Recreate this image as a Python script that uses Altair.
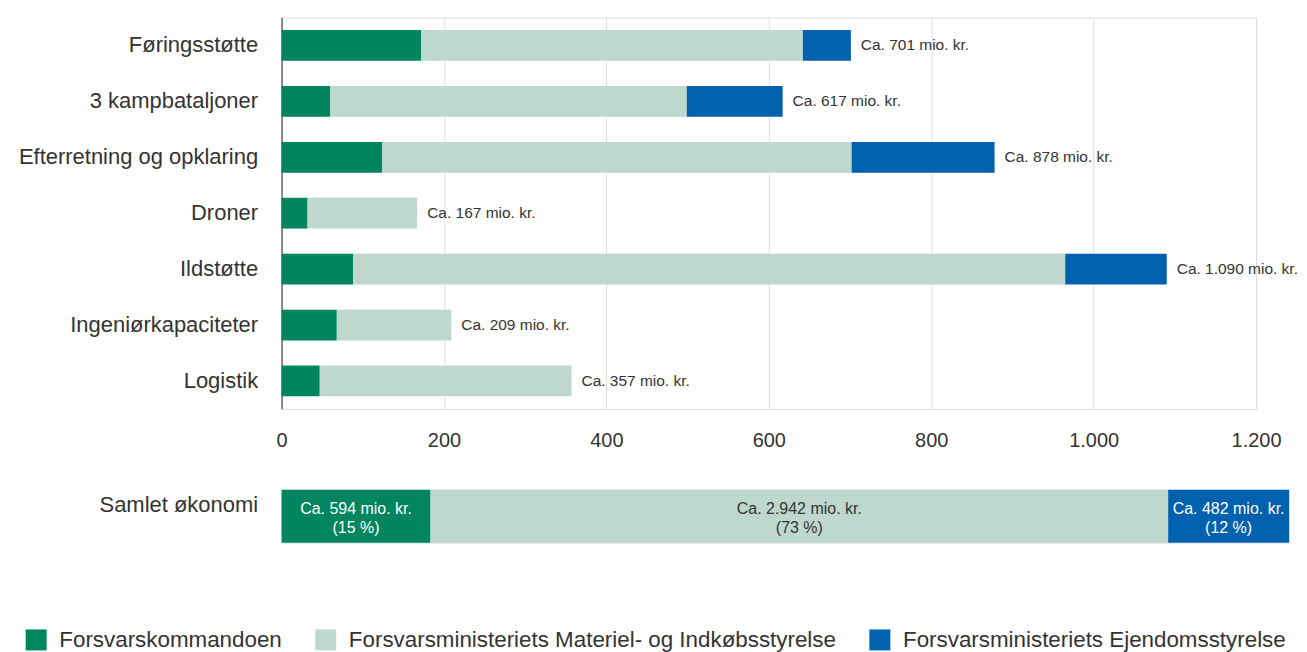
import altair as alt
import pandas as pd

# ---- data ----
categories = ["Føringsstøtte", "3 kampbataljoner", "Efterretning og opklaring ",
              "Droner", "Ildstøtte", "Ingeniørkapaciteter", "Logistik"]
fk_values = [172, 60, 124, 32, 88, 68, 47]
fmi_values = [470, 439, 578, 135, 877, 141, 310]
fe_values = [59, 118, 176, 0, 125, 0, 0]
totals = [701, 617, 878, 167, 1090, 209, 357]
total_labels = ["Ca. 701 mio. kr.", "Ca. 617 mio. kr.", "Ca. 878 mio. kr.",
                "Ca. 167 mio. kr.", "Ca. 1.090 mio. kr.", "Ca. 209 mio. kr.",
                "Ca. 357 mio. kr."]

series = ["Forsvarskommandoen",
          "Forsvarsministeriets Materiel- og Indkøbsstyrelse",
          "Forsvarsministeriets Ejendomsstyrelse"]
colors = ["#00855F", "#BFD8CE", "#0061AE"]

samlet_name = "Samlet økonomi"
samlet_values = [594, 2942, 482]
samlet_labels = ["Ca. 594 mio. kr.\n(15 %)", "Ca. 2.942 mio. kr.\n(73 %)",
                 "Ca. 482 mio. kr.\n(12 %)"]
x_ticks = [0, 200, 400, 600, 800, 1000, 1200]

FONT = "Liberation Sans"
TXT = "#333333"

# ---- tables ----
rows = []
for i, c in enumerate(categories):
    for j, vals in enumerate([fk_values, fmi_values, fe_values]):
        if vals[i] > 0:
            rows.append({"kategori": c, "enhed": series[j], "orden": j, "vaerdi": vals[i]})
df = pd.DataFrame(rows)
tot_df = pd.DataFrame({"kategori": categories, "total": totals, "tekst": total_labels})
sam_df = pd.DataFrame({"raekke": [samlet_name] * 3, "enhed": series, "orden": [0, 1, 2],
                       "vaerdi": samlet_values, "tekst": samlet_labels})

color = alt.Color(
    "enhed:N",
    scale=alt.Scale(domain=series, range=colors),
    legend=alt.Legend(
        title=None, orient="none", legendX=-257, legendY=612, direction="horizontal",
        columns=3, symbolType="square", symbolSize=441, symbolStrokeWidth=0,
        labelFontSize=22.4, labelFont=FONT, labelColor=TXT, labelOffset=12,
        columnPadding=32, labelLimit=600,
    ),
)

y_main = alt.Y(
    "kategori:N", sort=categories,
    scale=alt.Scale(paddingInner=0.45, paddingOuter=0.225),
    axis=alt.Axis(title=None, labelFontSize=22, labelFont=FONT, labelColor=TXT,
                  labelPadding=24, ticks=False, domainColor="#333333", labelLimit=500,
                  grid=False),
)

bars = alt.Chart(df).mark_bar().encode(
    x=alt.X("vaerdi:Q", stack="zero",
            scale=alt.Scale(domain=[0, 1200], nice=False),
            axis=alt.Axis(title=None, values=x_ticks, domain=False, ticks=False,
                          labelFontSize=20, labelFont=FONT, labelColor=TXT,
                          labelPadding=22, labelFlush=False, gridColor="#dddddd",
                          labelExpr="replace(format(datum.value, ','), ',', '.')")),
    y=y_main,
    color=color,
    order=alt.Order("orden:Q"),
)

totals_text = alt.Chart(tot_df).mark_text(
    align="left", dx=10, fontSize=15.5, font=FONT, color=TXT
).encode(
    x="total:Q",
    y=alt.Y("kategori:N", sort=categories),
    text="tekst:N",
)

main = alt.layer(bars, totals_text).properties(width=976, height=392)

sam_total = sum(samlet_values)
sam_base = alt.Chart(sam_df)
sam_bars = sam_base.mark_bar().encode(
    x=alt.X("vaerdi:Q", stack="zero",
            scale=alt.Scale(domain=[0, sam_total], nice=False), axis=None),
    y=alt.Y("raekke:N",
            scale=alt.Scale(paddingInner=0, paddingOuter=0),
            axis=alt.Axis(title=None, labelFontSize=22, labelFont=FONT, labelColor=TXT,
                          labelPadding=24, ticks=False, domain=False, labelOffset=-11,
                          labelLimit=500)),
    color=color,
    order=alt.Order("orden:Q"),
)
sam_text = sam_base.transform_stack(
    stack="vaerdi", groupby=["raekke"], as_=["x0", "x1"],
    sort=[alt.SortField("orden", order="ascending")],
).transform_calculate(
    mid="(datum.x0 + datum.x1) / 2"
).mark_text(
    fontSize=16, font=FONT, lineBreak="\n", lineHeight=19, baseline="middle", dy=-7
).encode(
    x=alt.X("mid:Q"),
    y=alt.Y("raekke:N"),
    text="tekst:N",
    color=alt.condition("datum.orden == 1", alt.value(TXT), alt.value("#ffffff")),
)
samlet = alt.layer(sam_bars, sam_text).properties(width=1009, height=53)

chart = alt.vconcat(main, samlet, spacing=37).resolve_scale(
    x="independent", y="independent", color="shared"
).properties(
    padding={"left": 9, "top": 8, "right": 0, "bottom": 0}
).configure_view(stroke=None).configure(font=FONT)

chart.save("out.html", embed_options={"renderer": "svg", "actions": False})
